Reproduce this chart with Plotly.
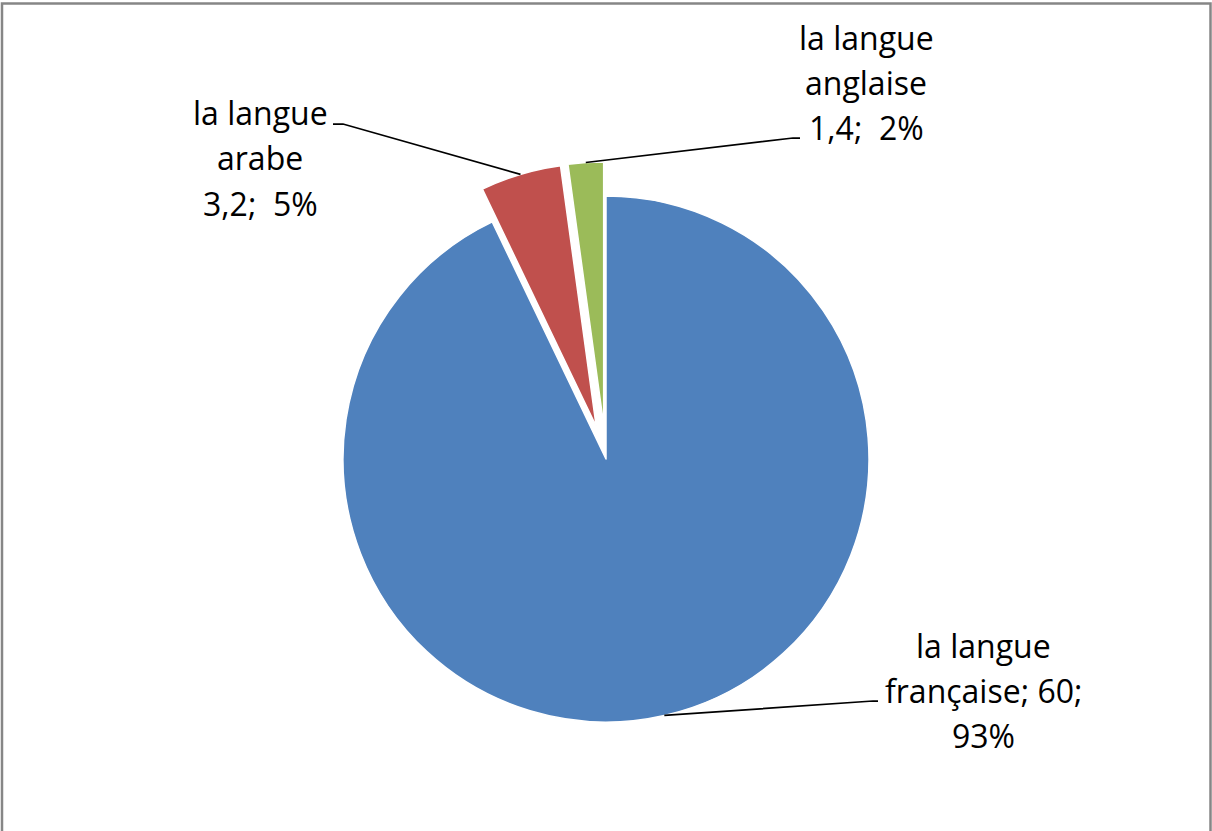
import math
import plotly.graph_objects as go

# ---- data ----
categories = ["la langue française", "la langue arabe", "la langue anglaise"]
values = [60, 3.2, 1.4]
colors = ["#4F81BD", "#C0504D", "#9BBB59"]
pulls = [0, 0.13, 0.13]

W, H = 1212, 831
CX, CY, R = 606, 459, 263          # pie centre / radius in pixels
FONT = "Open Sans"
FS = 32
LINE_H = 45

total = sum(values)
pcts = [round(v / total * 100) for v in values]
fmt = [f"{v:g}".replace(".", ",") for v in values]

label_lines = [
    ["la langue", f"française; {fmt[0]};", f"{pcts[0]}%"],
    ["la langue", "arabe", f"{fmt[1]};  {pcts[1]}%"],
    ["la langue", "anglaise", f"{fmt[2]};  {pcts[2]}%"],
]
# label block layout: centre x, first-line centre y (pixels)
label_pos = [(983, 645), (260, 113), (866, 37)]
# leader line: elbow point and end point near text (pixels)
leader_pts = [((873, 701), (878, 701)), ((343, 124), (333, 124)), ((793, 138), (800, 138))]


def px(x):
    return x / W


def py(y):
    return 1 - y / H


maxpull = max(pulls)
half = R * (1 + maxpull)
fig = go.Figure(go.Pie(
    labels=categories, values=values, sort=False, direction="clockwise",
    rotation=0, pull=pulls, textinfo="none", hoverinfo="label+value+percent",
    marker=dict(colors=colors, line=dict(color="white", width=1.5)),
    domain=dict(x=[px(CX - half), px(CX + half)], y=[py(CY + half), py(CY - half)]),
    showlegend=False,
))

shapes = []
annotations = []
cum = 0
for i, v in enumerate(values):
    theta = math.radians((cum + v / 2) / total * 360)
    cum += v
    rr = R * (1 + pulls[i])
    x0 = CX + rr * math.sin(theta)
    y0 = CY - rr * math.cos(theta)
    (ex, ey), (tx, ty) = leader_pts[i]
    shapes.append(dict(
        type="path", xref="paper", yref="paper",
        path=f"M {px(x0)},{py(y0)} L {px(ex)},{py(ey)} L {px(tx)},{py(ty)}",
        line=dict(color="black", width=1.75),
    ))
    lx, ly = label_pos[i]
    for j, line in enumerate(label_lines[i]):
        annotations.append(dict(
            x=px(lx), y=py(ly + j * LINE_H), xref="paper", yref="paper",
            text=line, showarrow=False, xanchor="center", yanchor="middle",
            font=dict(family=FONT, size=FS, color="black"),
        ))

# chart border (bottom edge cut off)
shapes.append(dict(type="path", xref="paper", yref="paper",
                   path=f"M {px(2)},{py(H + 5)} L {px(2)},{py(3.5)} L {px(1210.5)},{py(3.5)} L {px(1210.5)},{py(H + 5)}",
                   line=dict(color="#868686", width=2.5)))

fig.update_layout(
    width=W, height=H, margin=dict(l=0, r=0, t=0, b=0),
    paper_bgcolor="white", plot_bgcolor="white",
    shapes=shapes, annotations=annotations,
)
fig.write_html("out.html")
